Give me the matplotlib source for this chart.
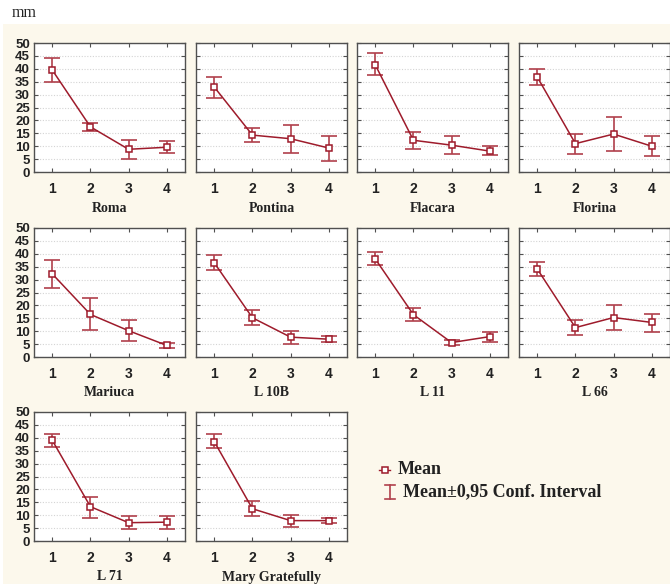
import numpy as np
import matplotlib
matplotlib.use("Agg")
import matplotlib.pyplot as plt
from matplotlib.patches import Rectangle
from matplotlib.lines import Line2D

names = ["Roma", "Pontina", "Flacara", "Florina",
         "Mariuca", "L 10B", "L 11", "L 66",
         "L 71", "Mary Gratefully"]
groups = [1, 2, 3, 4]

means = [[39.5, 17.5, 8.8, 9.6],
         [32.9, 14.3, 12.9, 9.3],
         [41.5, 12.3, 10.4, 8.1],
         [36.8, 11.0, 14.7, 10.0],
         [32.2, 16.5, 10.2, 4.5],
         [36.5, 15.2, 7.7, 6.9],
         [38.0, 16.4, 5.6, 7.9],
         [34.1, 11.4, 15.3, 13.4],
         [39.0, 13.3, 7.1, 7.3],
         [38.5, 12.5, 7.9, 7.9]]
ci_low = [[34.9, 15.9, 5.2, 7.2],
          [28.7, 11.8, 7.3, 4.4],
          [37.7, 9.0, 7.1, 6.4],
          [33.6, 6.9, 8.2, 6.1],
          [26.6, 10.5, 6.3, 3.6],
          [33.6, 12.4, 5.2, 5.9],
          [35.6, 13.9, 4.7, 6.0],
          [31.3, 8.4, 10.5, 9.6],
          [36.6, 9.1, 4.7, 4.8],
          [36.0, 9.5, 5.5, 6.8]]
ci_high = [[44.2, 19.0, 12.4, 11.9],
           [36.8, 16.9, 18.2, 14.0],
           [46.0, 15.6, 13.9, 10.0],
           [40.0, 14.7, 21.3, 13.9],
           [37.7, 22.8, 14.3, 5.4],
           [39.6, 18.1, 10.1, 8.0],
           [40.6, 18.8, 6.4, 9.6],
           [37.0, 14.3, 20.0, 16.8],
           [41.6, 17.2, 9.5, 9.8],
           [41.3, 15.4, 10.2, 9.1]]

W, H = 670, 584
line_c = "#9e1b2b"
err_c = "#b0404c"
cream = "#fcf8ec"
serif = "Liberation Serif"
sans = "Liberation Sans"

fig = plt.figure(figsize=(W / 100, H / 100), dpi=100)
fig.patch.set_facecolor("white")
fig.add_artist(Rectangle((3 / W, 0), 1, (H - 24) / H, transform=fig.transFigure,
                         facecolor=cream, edgecolor="none", zorder=0))
fig.text(12 / W, 1 - 13 / H, "mm", family=serif, fontsize=11.5, va="center", ha="left",
         color="#222222")

col_left = [34, 196, 357, 519]
row_top = [43, 228, 412]
aw, ah = 151, 129

for i, name in enumerate(names):
    r, c = divmod(i, 4)
    x0 = col_left[c]
    y0 = row_top[r]
    ax = fig.add_axes([x0 / W, 1 - (y0 + ah) / H, aw / W, ah / H])
    ax.set_facecolor("white")
    m = np.array(means[i])
    lo = m - np.array(ci_low[i])
    hi = np.array(ci_high[i]) - m
    ax.errorbar(groups, m, yerr=[lo, hi], fmt="none", ecolor=err_c,
                elinewidth=1.2, capsize=5.5, capthick=1.2, zorder=3)
    ax.plot(groups, m, color=line_c, lw=1.1, marker="s", ms=5,
            mfc="white", mec=line_c, mew=1.1, zorder=4)
    ax.set_xlim(0.52, 4.48)
    ax.set_ylim(0, 50)
    ax.set_yticks(np.arange(0, 51, 5))
    ax.set_xticks(groups)
    ax.yaxis.grid(True, ls=(0, (1, 1.5)), color="#d4d4d4", lw=0.8)
    ax.set_axisbelow(True)
    for s in ax.spines.values():
        s.set_color("#505050")
        s.set_linewidth(1.0)
    ax.tick_params(direction="in", length=3, width=0.8, color="#505050",
                   top=True, right=True)
    ax.tick_params(axis="x", pad=7)
    ax.tick_params(axis="y", pad=3)
    for lab in ax.get_xticklabels() + ax.get_yticklabels():
        lab.set_family(sans)
        lab.set_fontweight("bold")
        lab.set_color("#222222")
    for lab in ax.get_xticklabels():
        lab.set_fontsize(10)
    for lab in ax.get_yticklabels():
        lab.set_fontsize(9.5)
    if c != 0:
        ax.set_yticklabels([])
    ax.text(0.5, -36 / ah, name, transform=ax.transAxes, ha="center", va="center",
            family=serif, fontweight="bold", fontsize=10, color="#222222")

# legend
fig.add_artist(Line2D([379 / W, 390 / W], [1 - 470 / H, 1 - 470 / H],
                      transform=fig.transFigure, color=line_c, lw=1,
                      marker=None))
fig.add_artist(Line2D([384.5 / W], [1 - 470 / H], transform=fig.transFigure,
                      color=line_c, marker="s", ms=5, mfc="white", mew=1.1, lw=0))
fig.text(398 / W, 1 - 470 / H, "Mean", family=serif, fontweight="bold",
         fontsize=13, va="center", ha="left", color="#222222")
ex = 390
fig.add_artist(Line2D([ex / W, ex / W], [1 - 485 / H, 1 - 499 / H],
                      transform=fig.transFigure, color=err_c, lw=1.2))
for yy in (485, 499):
    fig.add_artist(Line2D([(ex - 5) / W, (ex + 5) / W], [1 - yy / H, 1 - yy / H],
                          transform=fig.transFigure, color=err_c, lw=1.2))
fig.text(403 / W, 1 - 492 / H, "Mean±0,95 Conf. Interval", family=serif,
         fontweight="bold", fontsize=13, va="center", ha="left", color="#222222")

fig.savefig("out.png", dpi=100)
